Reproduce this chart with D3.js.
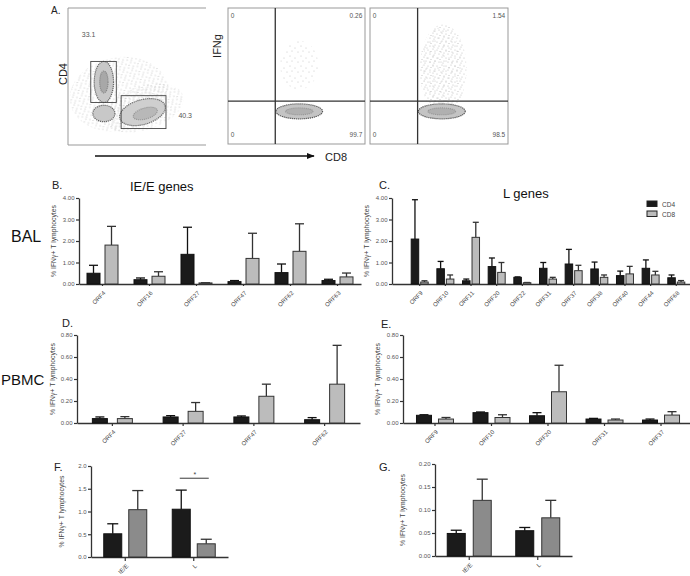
<!DOCTYPE html>
<html>
<head>
<meta charset="utf-8">
<script src="https://cdn.jsdelivr.net/npm/d3@7"></script>
<style>
  body { margin: 0; background: #fff; }
  svg { font-family: "Liberation Sans", Arial, sans-serif; }
</style>
</head>
<body>
<div id="fig"></div>
<script>
// values (mean % IFNg+ T cells and SEM)
var bGenes = ["ORF4", "ORF16", "ORF27", "ORF47", "ORF62", "ORF63"];
var bCD4 = [0.50, 0.20, 1.38, 0.11, 0.53, 0.16];
var bCD4Sem = [0.37, 0.08, 1.26, 0.05, 0.40, 0.06];
var bCD8 = [1.81, 0.36, 0.05, 1.19, 1.52, 0.33];
var bCD8Sem = [0.87, 0.21, 0.01, 1.17, 1.28, 0.18];

var cGenes = ["ORF9", "ORF10", "ORF11", "ORF20", "ORF22", "ORF31", "ORF37", "ORF38", "ORF40", "ORF44", "ORF68"];
var cCD4 = [2.09, 0.71, 0.15, 0.81, 0.31, 0.73, 0.93, 0.70, 0.39, 0.73, 0.29];
var cCD4Sem = [1.83, 0.34, 0.08, 0.40, 0.02, 0.27, 0.68, 0.32, 0.21, 0.39, 0.13];
var cCD8 = [0.09, 0.23, 2.17, 0.54, 0.06, 0.23, 0.62, 0.31, 0.47, 0.42, 0.09];
var cCD8Sem = [0.06, 0.19, 0.70, 0.46, 0.01, 0.08, 0.25, 0.11, 0.35, 0.17, 0.07];

var dGenes = ["ORF4", "ORF27", "ORF47", "ORF62"];
var dCD4 = [0.040, 0.055, 0.055, 0.030];
var dCD4Sem = [0.015, 0.012, 0.009, 0.019];
var dCD8 = [0.040, 0.106, 0.243, 0.353];
var dCD8Sem = [0.018, 0.080, 0.110, 0.353];

var eGenes = ["ORF9", "ORF10", "ORF20", "ORF31", "ORF37"];
var eCD4 = [0.070, 0.094, 0.066, 0.036, 0.027];
var eCD4Sem = [0.005, 0.006, 0.028, 0.006, 0.009];
var eCD8 = [0.036, 0.050, 0.284, 0.027, 0.072];
var eCD8Sem = [0.014, 0.025, 0.241, 0.009, 0.031];

var kinetic = ["IE/E", "L"];
var fCD4 = [0.51, 1.05];
var fCD4Sem = [0.22, 0.42];
var fCD8 = [1.04, 0.29];
var fCD8Sem = [0.42, 0.10];
var gCD4 = [0.049, 0.055];
var gCD4Sem = [0.007, 0.007];
var gCD8 = [0.121, 0.083];
var gCD8Sem = [0.046, 0.038];

var ticks4 = [0, 1, 2, 3, 4];
var ticks08 = [0, 0.2, 0.4, 0.6, 0.8];
var ticks2 = [0, 0.5, 1.0, 1.5, 2.0];
var ticks02 = [0, 0.05, 0.10, 0.15, 0.20];

// flow plots: gate and quadrant percentages
var gateLabels = ["33.1", "40.3"];
var quadLabels = [["0", "0.26", "0", "99.7"], ["0", "1.54", "0", "98.5"]];

var svg = d3.select("#fig").append("svg")
    .attr("width", 690)
    .attr("height", 576);

var defs = svg.append("defs");
// speckle patterns to suggest sparse events
var sp = defs.append("pattern").attr("id", "speckle")
    .attr("width", 9).attr("height", 8).attr("patternUnits", "userSpaceOnUse");
[[1, 1], [5, 2], [3, 5], [7, 6], [8, 3.5], [2, 7]].forEach(function (p) {
    sp.append("circle").attr("cx", p[0]).attr("cy", p[1]).attr("r", 0.4).attr("fill", "#777");
});
var sp2 = defs.append("pattern").attr("id", "speckle2")
    .attr("width", 11).attr("height", 10).attr("patternUnits", "userSpaceOnUse");
[[1, 2], [6, 1], [4, 6], [9, 8]].forEach(function (p) {
    sp2.append("circle").attr("cx", p[0]).attr("cy", p[1]).attr("r", 0.4).attr("fill", "#888");
});

function label(x, y, txt, size, opts) {
    opts = opts || {};
    var t = svg.append("text")
        .attr("x", x).attr("y", y)
        .attr("font-size", size)
        .attr("fill", opts.fill || "#222")
        .attr("text-anchor", opts.anchor || "start")
        .text(txt);
    if (opts.rotate) t.attr("transform", "rotate(-90," + x + "," + y + ")");
    return t;
}

// ---------------- Panel A ----------------
label(51, 14, "A.", 10);

function flowBox(x0, x1, y0, y1, full) {
    var sx = d3.scaleLinear().domain([0, 1]).range([x0, x1]);
    var sy = d3.scaleLinear().domain([0, 1]).range([y1, y0]);
    var g = svg.append("g");
    if (full) {
        g.append("rect").attr("x", x0).attr("y", y0).attr("width", x1 - x0).attr("height", y1 - y0)
            .attr("fill", "none").attr("stroke", "#999").attr("stroke-width", 1);
    } else {
        g.append("path").attr("d", "M" + x1 + "," + y0 + "H" + x0 + "V" + y1 + "H" + x1)
            .attr("fill", "none").attr("stroke", "#999").attr("stroke-width", 1);
    }
    return { g: g, sx: sx, sy: sy };
}

function blob(b, cx, cy, rx, ry, rot, fill, stroke) {
    b.g.append("ellipse")
        .attr("cx", b.sx(cx)).attr("cy", b.sy(cy))
        .attr("rx", b.sx(rx) - b.sx(0)).attr("ry", b.sy(0) - b.sy(ry))
        .attr("transform", "rotate(" + rot + "," + b.sx(cx) + "," + b.sy(cy) + ")")
        .attr("fill", fill)
        .attr("stroke", stroke || "none")
        .attr("stroke-width", 1.2)
        .attr("stroke-dasharray", stroke ? "1.2,0.8" : null);
}

// CD4 vs CD8 plot
var a1 = flowBox(68, 206, 8, 145, false);
blob(a1, 0.37, 0.37, 0.36, 0.27, -10, "url(#speckle)");
blob(a1, 0.55, 0.27, 0.30, 0.16, -18, "url(#speckle)");
blob(a1, 0.26, 0.46, 0.07, 0.15, 0, "#c8c8c8", "#666");
blob(a1, 0.26, 0.46, 0.03, 0.08, 0, "#a8a8a8", "#888");
blob(a1, 0.26, 0.23, 0.08, 0.06, 0, "#c8c8c8", "#666");
blob(a1, 0.54, 0.24, 0.17, 0.09, -16, "#cfcfcf", "#666");
blob(a1, 0.56, 0.23, 0.09, 0.04, -16, "#b8b8b8", "#999");
a1.g.append("rect").attr("x", a1.sx(0.165)).attr("y", a1.sy(0.61))
    .attr("width", a1.sx(0.35) - a1.sx(0.165)).attr("height", a1.sy(0.31) - a1.sy(0.61))
    .attr("fill", "none").attr("stroke", "#444").attr("stroke-width", 0.9);
a1.g.append("rect").attr("x", a1.sx(0.385)).attr("y", a1.sy(0.36))
    .attr("width", a1.sx(0.71) - a1.sx(0.385)).attr("height", a1.sy(0.12) - a1.sy(0.36))
    .attr("fill", "none").attr("stroke", "#444").attr("stroke-width", 0.9);
label(a1.sx(0.1), a1.sy(0.785), gateLabels[0], 7, { fill: "#555" });
label(a1.sx(0.8), a1.sy(0.2), gateLabels[1], 7, { fill: "#555" });
label(67, 74, "CD4", 11, { rotate: true, anchor: "middle" });

// IFNg vs CD8 plots
[[228, 365, 0.5], [370, 508, 0.78]].forEach(function (p, i) {
    var b = flowBox(p[0], p[1], 8, 144, true);
    blob(b, 0.52, 0.58, 0.14, 0.36 * p[2], 0, "url(#speckle2)");
    if (i === 1) blob(b, 0.53, 0.55, 0.17, 0.33, 0, "url(#speckle)");
    blob(b, 0.52, 0.24, 0.17, 0.055, 0, "#c4c4c4", "#555");
    blob(b, 0.52, 0.24, 0.10, 0.025, 0, "#b0b0b0", "#999");
    b.g.append("line").attr("x1", b.sx(0.345)).attr("x2", b.sx(0.345))
        .attr("y1", b.sy(0)).attr("y2", b.sy(1)).attr("stroke", "#333").attr("stroke-width", 1.3);
    b.g.append("line").attr("x1", b.sx(0)).attr("x2", b.sx(1))
        .attr("y1", b.sy(0.315)).attr("y2", b.sy(0.315)).attr("stroke", "#333").attr("stroke-width", 1.3);
    var q = quadLabels[i];
    label(b.sx(0.02), b.sy(0.93), q[0], 6.5, { fill: "#555" });
    label(b.sx(0.98), b.sy(0.93), q[1], 6.5, { fill: "#555", anchor: "end" });
    label(b.sx(0.02), b.sy(0.05), q[2], 6.5, { fill: "#555" });
    label(b.sx(0.98), b.sy(0.05), q[3], 6.5, { fill: "#555", anchor: "end" });
});
label(221, 46, "IFNg", 11, { rotate: true, anchor: "middle" });

defs.append("marker").attr("id", "arrow").attr("viewBox", "0 0 10 10")
    .attr("refX", 9).attr("refY", 5).attr("markerWidth", 6).attr("markerHeight", 6)
    .attr("orient", "auto")
    .append("path").attr("d", "M0,1L10,5L0,9Z").attr("fill", "#111");
svg.append("line").attr("x1", 95).attr("x2", 314).attr("y1", 156).attr("y2", 156)
    .attr("stroke", "#111").attr("stroke-width", 1.3).attr("marker-end", "url(#arrow)");
label(325, 161, "CD8", 11);

// ---------------- bar panels ----------------
function barPanel(o) {
    var g = svg.append("g");
    var x = d3.scaleBand().domain(o.cats).range(o.xr).paddingOuter(o.po || 0).paddingInner(0);
    var y = d3.scaleLinear().domain([0, o.ymax]).range([o.y0, o.y1]);

    var ya = g.append("g")
        .attr("transform", "translate(" + o.xr[0] + ",0)")
        .call(d3.axisLeft(y).tickValues(o.ticks).tickFormat(d3.format(o.fmt)).tickSize(3).tickPadding(1.5).tickSizeOuter(0));
    var xa = g.append("g")
        .attr("transform", "translate(0," + o.y0 + ")")
        .call(d3.axisBottom(x).tickSize(o.xtick || 2).tickSizeOuter(0));
    [ya, xa].forEach(function (a) {
        a.select(".domain").attr("stroke", "#333").attr("stroke-width", 1.3);
        a.selectAll(".tick line").attr("stroke", "#333").attr("stroke-width", 1.2);
        a.selectAll("text").attr("font-family", "Liberation Sans, Arial, sans-serif").attr("fill", "#555");
    });
    ya.selectAll("text").attr("font-size", 6);
    xa.selectAll("text")
        .attr("font-size", 6)
        .attr("fill", "#444")
        .attr("y", 0).attr("dy", "0.35em")
        .attr("text-anchor", "end")
        .attr("transform", "translate(2,8) rotate(-45)");

    // y title
    var cy = (o.y0 + o.y1) / 2;
    g.append("text")
        .attr("transform", "translate(" + (o.xr[0] - o.titleOff) + "," + cy + ") rotate(-90)")
        .attr("text-anchor", "middle")
        .attr("font-size", 6.8)
        .attr("fill", "#444")
        .text("% IFNγ+ T lymphocytes");

    var series = [
        { v: o.cd4, e: o.cd4Sem, fill: "#1b1b1b", stroke: "#111", side: -1 },
        { v: o.cd8, e: o.cd8Sem, fill: o.gray, stroke: "#333", side: 1 }
    ];
    series.forEach(function (s) {
        var rows = o.cats.map(function (c, i) { return { c: c, v: s.v[i], e: s.e[i] }; });
        var bx = function (d) {
            var mid = x(d.c) + x.bandwidth() / 2;
            return s.side < 0 ? mid - o.gap / 2 - o.bw : mid + o.gap / 2;
        };
        // error bars (upper only)
        g.selectAll(null).data(rows).enter().append("line")
            .attr("x1", function (d) { return bx(d) + o.bw / 2; })
            .attr("x2", function (d) { return bx(d) + o.bw / 2; })
            .attr("y1", function (d) { return y(d.v); })
            .attr("y2", function (d) { return y(d.v + d.e); })
            .attr("stroke", s.stroke).attr("stroke-width", 1.3);
        g.selectAll(null).data(rows).enter().append("line")
            .attr("x1", function (d) { return bx(d) + o.bw / 2 - o.cap / 2; })
            .attr("x2", function (d) { return bx(d) + o.bw / 2 + o.cap / 2; })
            .attr("y1", function (d) { return y(d.v + d.e); })
            .attr("y2", function (d) { return y(d.v + d.e); })
            .attr("stroke", s.stroke).attr("stroke-width", 1.3);
        g.selectAll(null).data(rows).enter().append("rect")
            .attr("x", bx)
            .attr("y", function (d) { return y(d.v); })
            .attr("width", o.bw)
            .attr("height", function (d) { return y(0) - y(d.v); })
            .attr("fill", s.fill)
            .attr("stroke", s.stroke)
            .attr("stroke-width", 1);
    });
    return { x: x, y: y, g: g };
}

var lightGray = "#bcbcbc";
var midGray = "#8b8b8b";

// B. BAL, IE/E genes
label(52, 189, "B.", 11);
label(130, 191, "IE/E genes", 13, { fill: "#111" });
label(11, 242, "BAL", 16, { fill: "#111" });
barPanel({ cats: bGenes, cd4: bCD4, cd4Sem: bCD4Sem, cd8: bCD8, cd8Sem: bCD8Sem,
    xr: [79, 361], y0: 284, y1: 198, ymax: 4, ticks: ticks4, fmt: ".2f",
    bw: 13, gap: 5, cap: 9, gray: lightGray, titleOff: 23 });

// C. BAL, L genes
label(379, 189, "C.", 11);
label(503, 198, "L genes", 13, { fill: "#111" });
barPanel({ cats: cGenes, cd4: cCD4, cd4Sem: cCD4Sem, cd8: cCD8, cd8Sem: cCD8Sem,
    xr: [392, 704], po: 0.58, y0: 284, y1: 198, ymax: 4, ticks: ticks4, fmt: ".2f",
    bw: 7.5, gap: 2, cap: 6, gray: lightGray, titleOff: 23 });

// legend
var legendItems = [["CD4", "#1b1b1b"], ["CD8", lightGray]];
legendItems.forEach(function (d, i) {
    svg.append("rect").attr("x", 647).attr("y", 201 + i * 10).attr("width", 10).attr("height", 5.5)
        .attr("fill", d[1]).attr("stroke", "#222").attr("stroke-width", 1);
    label(662, 207 + i * 10, d[0], 6.5, { fill: "#444" });
});

// D. PBMC, IE/E genes
label(62, 327, "D.", 11);
label(1, 385, "PBMC", 15, { fill: "#111" });
barPanel({ cats: dGenes, cd4: dCD4, cd4Sem: dCD4Sem, cd8: dCD8, cd8Sem: dCD8Sem,
    xr: [77, 360], y0: 423, y1: 335, ymax: 0.8, ticks: ticks08, fmt: ".2f",
    bw: 15, gap: 10, cap: 9, gray: lightGray, titleOff: 22, xtick: 3 });

// E. PBMC, L genes
label(381, 328, "E.", 11);
barPanel({ cats: eGenes, cd4: eCD4, cd4Sem: eCD4Sem, cd8: eCD8, cd8Sem: eCD8Sem,
    xr: [403, 693], po: 0.066, y0: 423, y1: 335, ymax: 0.8, ticks: ticks08, fmt: ".2f",
    bw: 15, gap: 7, cap: 9, gray: lightGray, titleOff: 23, xtick: 3 });

// F. BAL pooled
label(54, 471, "F.", 11);
var f = barPanel({ cats: kinetic, cd4: fCD4, cd4Sem: fCD4Sem, cd8: fCD8, cd8Sem: fCD8Sem,
    xr: [91, 228], y0: 557, y1: 466, ymax: 2, ticks: ticks2, fmt: ".1f",
    bw: 18, gap: 7, cap: 11, gray: midGray, titleOff: 27, xtick: 4 });
var lx = f.x("L") + f.x.bandwidth() / 2;
f.g.append("line").attr("x1", lx - 14).attr("x2", lx + 15)
    .attr("y1", f.y(1.73)).attr("y2", f.y(1.73))
    .attr("stroke", "#666").attr("stroke-width", 1.3);
f.g.append("text").attr("x", lx + 1).attr("y", f.y(1.76)).attr("text-anchor", "middle")
    .attr("font-size", 7).attr("fill", "#444").text("*");

// G. PBMC pooled
label(379, 471, "G.", 11);
barPanel({ cats: kinetic, cd4: gCD4, cd4Sem: gCD4Sem, cd8: gCD8, cd8Sem: gCD8Sem,
    xr: [435, 572], y0: 556, y1: 464, ymax: 0.2, ticks: ticks02, fmt: ".2f",
    bw: 18, gap: 8, cap: 11, gray: midGray, titleOff: 30, xtick: 4 });
</script>
</body>
</html>
